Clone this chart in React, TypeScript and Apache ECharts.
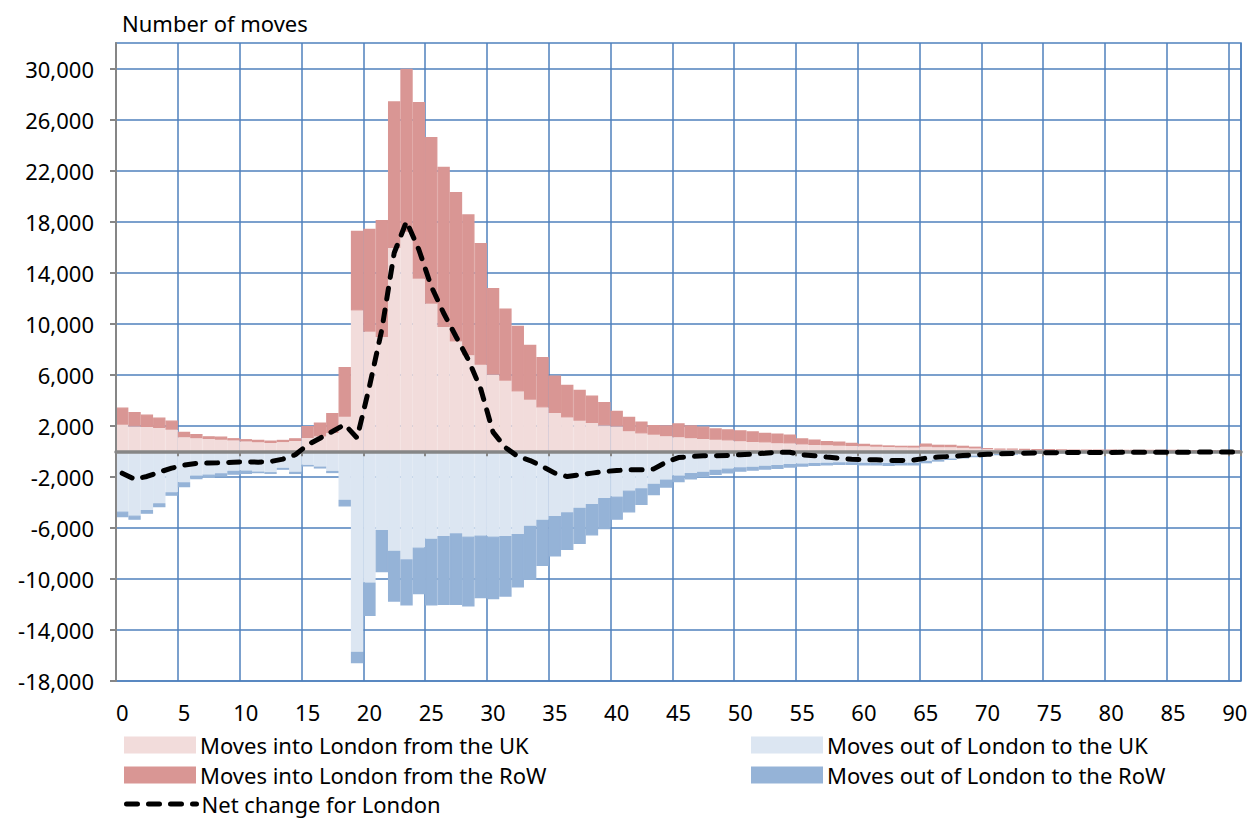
import React, { useEffect, useRef } from "react";
import * as echarts from "echarts";

const ages: string[] = Array.from({ length: 91 }, (_, i) => String(i));

const yTicks = [-18000, -14000, -10000, -6000, -2000, 2000, 6000, 10000, 14000, 18000, 22000, 26000, 30000];

const intoUK = [
  2080, 1950, 1900, 1820, 1690, 1110, 1030, 960, 900, 850,
  770, 720, 650, 720, 800, 1050, 1160, 1430, 2700, 11040,
  9370, 8960, 15940, 17200, 13530, 11570, 9740, 8610, 7520, 6780,
  6000, 5530, 4690, 4040, 3440, 3000, 2650, 2390, 2210, 2020,
  1950, 1580, 1400, 1300, 1180, 1100, 1020, 960, 900, 850,
  790, 740, 690, 640, 610, 530, 500, 470, 440, 420,
  390, 360, 340, 310, 290, 360, 320, 310, 270, 220,
  160, 130, 120, 110, 95, 90, 85, 75, 70, 65,
  60, 55, 50, 50, 45, 45, 40, 40, 35, 35,
  30,
];

const intoRoW = [
  1355, 1124, 986, 831, 726, 419, 318, 230, 260, 184,
  186, 182, 197, 182, 234, 940, 1090, 1570, 3900, 6250,
  8080, 9170, 11490, 12780, 13850, 13070, 12570, 11720, 11060, 9550,
  6800, 5670, 5150, 4310, 3950, 2950, 2570, 2430, 2170, 1840,
  1230, 1120, 930, 770, 860, 1100, 1020, 980, 900, 880,
  860, 830, 770, 750, 700, 490, 420, 340, 320, 260,
  210, 160, 130, 130, 150, 260, 200, 210, 170, 150,
  100, 80, 90, 90, 65, 65, 65, 45, 45, 45,
  45, 40, 40, 35, 35, 35, 35, 30, 30, 25,
  25,
];

const outUK = [
  -4720, -5035, -4590, -4060, -3200, -2420, -1900, -1820, -1710, -1530,
  -1510, -1580, -1630, -1290, -1600, -1060, -1190, -1530, -3800, -15700,
  -10290, -6160, -7800, -8460, -7540, -6860, -6630, -6420, -6680, -6600,
  -6680, -6630, -6470, -5840, -5370, -5060, -4770, -4430, -4120, -3650,
  -3540, -3070, -2890, -2550, -2200, -1900, -1700, -1600, -1450, -1350,
  -1250, -1200, -1130, -1080, -1000, -950, -920, -900, -860, -860,
  -900, -900, -920, -900, -900, -760, -650, -560, -450, -360,
  -280, -230, -190, -160, -140, -120, -110, -100, -90, -85,
  -80, -75, -70, -65, -60, -55, -50, -50, -45, -45,
  -40,
];

const outRoW = [
  -440, -335, -310, -320, -290, -390, -280, -280, -270, -310,
  -260, -130, -140, -160, -180, -130, -160, -180, -530, -910,
  -2610, -3310, -3980, -3630, -3660, -5230, -5410, -5620, -5490, -4920,
  -4920, -4760, -4210, -4240, -3610, -3190, -2960, -2830, -2480, -2450,
  -1830, -1730, -1310, -900, -650, -530, -500, -440, -410, -380,
  -350, -320, -310, -310, -280, -250, -230, -220, -210, -210,
  -220, -220, -230, -220, -220, -180, -160, -120, -110, -90,
  -70, -60, -50, -40, -35, -30, -25, -25, -25, -20,
  -20, -20, -20, -15, -15, -15, -15, -10, -10, -10,
  -10,
];

const netChange = [
  -1710, -2180, -1970, -1630, -1320, -1080, -950, -920, -900, -850,
  -820, -850, -800, -610, -270, 510, 1030, 1555, 2100, 1050,
  5080, 9530, 15540, 18020, 15800, 12930, 10840, 9000, 7180, 4900,
  1500, 300, -400, -720, -1190, -1710, -1980, -1840, -1710, -1580,
  -1510, -1450, -1450, -1380, -850, -490, -410, -350, -350, -320,
  -270, -220, -150, -70, -70, -270, -350, -450, -540, -620,
  -670, -670, -720, -720, -690, -540, -450, -400, -330, -280,
  -230, -200, -170, -150, -130, -110, -100, -100, -90, -90,
  -90, -80, -80, -80, -70, -70, -70, -60, -60, -60,
  -60,
];

const NAMES = {
  inUK: "Moves into London from the UK",
  inRoW: "Moves into London from the RoW",
  outUK: "Moves out of London to the UK",
  outRoW: "Moves out of London to the RoW",
  net: "Net change for London",
};

const FONT = "'Noto Sans', sans-serif";
const GRID_BLUE = "#4F81BD";
const AXIS_GREY = "#868686";
const C_IN_UK = "#F2DCDB";
const C_IN_ROW = "#D99694";
const C_OUT_UK = "#DCE6F2";
const C_OUT_ROW = "#95B3D7";
const NET_DASH = [11, 11];

export default function App() {
  const ref = useRef<HTMLDivElement>(null);

  useEffect(() => {
    if (!ref.current) return;
    const chart = echarts.init(ref.current, undefined, { renderer: "svg" });
    const fmt = (v: number) => v.toLocaleString("en-US");
    const legendText = { fontFamily: FONT, fontSize: 22, color: "#000", lineHeight: 24 };
    const mkLegend = (left: number, top: number, item: any) => ({
      left,
      top,
      orient: "horizontal",
      itemWidth: 70,
      itemHeight: 15,
      selectedMode: false,
      textStyle: legendText,
      data: [item],
    });
    const barSeries = (name: string, color: string, data: number[]) => ({
      name,
      type: "bar",
      stack: "total",
      barCategoryGap: "0%",
      barGap: "0%",
      itemStyle: { color, borderColor: color, borderWidth: 1.3 },
      data,
    });
    const option: any = {
      animation: false,
      backgroundColor: "#ffffff",
      textStyle: { fontFamily: FONT },
      title: {
        text: "Number of moves",
        left: 117,
        top: 7,
        textStyle: { fontFamily: FONT, fontSize: 22, fontWeight: "normal", color: "#000" },
      },
      grid: {
        left: 116,
        top: 43,
        width: 1125,
        height: 638,
        show: true,
        borderColor: GRID_BLUE,
        borderWidth: 1.5,
        backgroundColor: "transparent",
      },
      legend: [
        mkLegend(119, 728, { name: NAMES.inUK, icon: "rect" }),
        mkLegend(119, 758, { name: NAMES.inRoW, icon: "rect" }),
        mkLegend(119, 787, {
          name: NAMES.net,
          itemStyle: { opacity: 0, color: "rgba(0,0,0,0)", borderWidth: 0 },
          lineStyle: { width: 5, color: "#000", type: NET_DASH, cap: "round" },
        }),
        mkLegend(746, 728, { name: NAMES.outUK, icon: "rect" }),
        mkLegend(746, 758, { name: NAMES.outRoW, icon: "rect" }),
      ],
      xAxis: [
        {
          type: "category",
          data: ages,
          position: "bottom",
          z: 3,
          axisLine: { show: true, onZero: true, onZeroAxisIndex: 0, lineStyle: { color: AXIS_GREY, width: 3.5 } },
          axisTick: { show: true, interval: 4, length: 5, lineStyle: { color: AXIS_GREY, width: 2 } },
          axisLabel: { show: false },
          splitLine: { show: false },
        },
        {
          type: "category",
          data: ages,
          position: "bottom",
          axisLine: { show: false, onZero: false },
          axisTick: { show: false },
          axisLabel: { interval: 4, margin: 20, fontFamily: FONT, fontSize: 22, color: "#000" },
          splitLine: { show: true, interval: 4, lineStyle: { color: GRID_BLUE, width: 1.5 } },
        },
      ],
      yAxis: [
        {
          type: "value",
          min: -18000,
          max: 32000,
          axisLine: { show: false },
          axisTick: { show: false, customValues: yTicks },
          axisLabel: { customValues: yTicks, formatter: fmt, margin: 22, fontFamily: FONT, fontSize: 22, color: "#000" },
          splitLine: { show: true, lineStyle: { color: GRID_BLUE, width: 1.5 } },
        },
        {
          type: "value",
          min: -18000,
          max: 32000,
          position: "left",
          z: 3,
          axisLine: { show: true, onZero: false, lineStyle: { color: AXIS_GREY, width: 2 } },
          axisTick: { show: true, customValues: yTicks, length: 6, lineStyle: { color: AXIS_GREY, width: 2 } },
          axisLabel: { show: false },
          splitLine: { show: false },
        },
      ],
      series: [
        barSeries(NAMES.inUK, C_IN_UK, intoUK),
        barSeries(NAMES.inRoW, C_IN_ROW, intoRoW),
        barSeries(NAMES.outUK, C_OUT_UK, outUK),
        barSeries(NAMES.outRoW, C_OUT_ROW, outRoW),
        {
          name: NAMES.net,
          type: "line",
          z: 5,
          symbol: "none",
          lineStyle: { color: "#000", width: 5, type: NET_DASH, cap: "round" },
          itemStyle: { color: "#000" },
          data: netChange,
        },
      ],
    };
    chart.setOption(option);
    return () => chart.dispose();
  }, []);

  return (
    <div
      ref={ref}
      style={{ position: "absolute", left: 0, top: 0, width: 1260, height: 818, background: "#fff" }}
    />
  );
}
